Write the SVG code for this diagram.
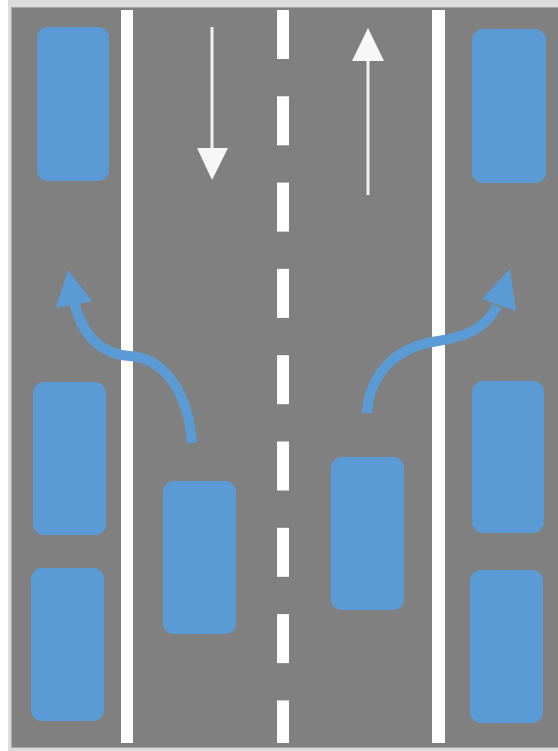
<svg xmlns="http://www.w3.org/2000/svg" width="558" height="751" viewBox="0 0 558 751">
<style>
.car{fill:#5b9bd5}
.lane{fill:#ffffff}
.turn{fill:none;stroke:#5b9bd5;stroke-width:10}
.head{fill:#5b9bd5}
.dir{stroke:#f2f2f2;stroke-width:3;fill:none}
</style>
<rect x="0" y="0" width="558" height="751" fill="#ffffff"/>
<rect x="8" y="0" width="550" height="751" fill="#dcdcdc"/>
<rect x="11.5" y="7.5" width="547" height="740" fill="#808080" stroke="#a6a6a6" stroke-width="1"/>
<g id="lane-lines">
<rect class="lane" x="121" y="10" width="12" height="733"/>
<rect class="lane" x="432" y="10" width="13" height="733"/>
<rect class="lane" x="277" y="10" width="12" height="49"/>
<rect class="lane" x="277" y="96.3" width="12" height="49"/>
<rect class="lane" x="277" y="182.6" width="12" height="49"/>
<rect class="lane" x="277" y="268.9" width="12" height="49"/>
<rect class="lane" x="277" y="355.2" width="12" height="49"/>
<rect class="lane" x="277" y="441.5" width="12" height="49"/>
<rect class="lane" x="277" y="527.8" width="12" height="49"/>
<rect class="lane" x="277" y="614.1" width="12" height="49"/>
<rect class="lane" x="277" y="700.4" width="12" height="42.6"/>
</g>
<g id="direction-arrows">
<line class="dir" x1="212" y1="27" x2="212" y2="150"/>
<polygon fill="#f7f7f7" points="197,148 228,148 212,180"/>
<line class="dir" x1="368" y1="195" x2="368" y2="58"/>
<polygon fill="#f7f7f7" points="352,61 384,61 368,28"/>
</g>
<g id="car-tl"><rect class="car" x="37" y="27" width="72" height="154" rx="11"/></g>
<g id="car-tr"><rect class="car" x="472" y="29" width="74" height="154" rx="11"/></g>
<g id="car-l1"><rect class="car" x="33" y="382" width="73" height="153" rx="11"/></g>
<g id="car-l2"><rect class="car" x="31" y="568" width="73" height="153" rx="11"/></g>
<g id="car-cl"><rect class="car" x="163" y="481" width="73" height="153" rx="11"/></g>
<g id="car-cr"><rect class="car" x="331" y="457" width="73" height="153" rx="11"/></g>
<g id="car-r1"><rect class="car" x="472" y="381" width="72" height="152" rx="11"/></g>
<g id="car-r2"><rect class="car" x="470" y="570" width="73" height="153" rx="11"/></g>
<g id="connectors">
<path class="turn" d="M192,443 C188,392 164,358 130,356 C100,354 82,334 74,302"/>
<polygon class="head" points="68,270 56,308 92,301"/>
<path class="turn" d="M367,413 C370,370 400,346 438,341 C466,337 486,328 497,306"/>
<polygon class="head" points="510,269 482,299 516,311"/>
</g>
</svg>
